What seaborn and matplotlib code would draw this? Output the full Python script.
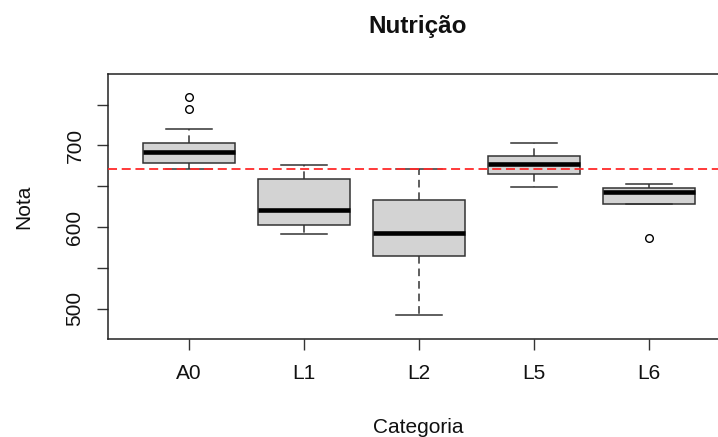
import matplotlib
matplotlib.use("Agg")
import matplotlib.pyplot as plt
import seaborn as sns
import pandas as pd

# Five-number summaries per category
categories = ["A0", "L1", "L2", "L5", "L6"]
whisker_low = [671.5, 591.4, 492.0, 649.4, 628.6]
q1 = [678.9, 602.5, 564.4, 665.0, 628.6]
median = [691.7, 621.0, 592.6, 677.7, 643.0]
q3 = [702.7, 659.0, 633.5, 687.0, 647.9]
whisker_high = [720.0, 676.0, 671.5, 702.7, 652.8]

# Points beyond the whiskers
outlier_cat = ["A0", "A0", "L6"]
outlier_val = [745.0, 760.0, 586.5]

# Reference level (dashed red line)
reference = 671.2

y_ticks = [500, 550, 600, 650, 700, 750]
y_ticklabels = ["500", "", "600", "", "700", ""]

rows = []
for c, a, b, m, d, e in zip(categories, whisker_low, q1, median, q3, whisker_high):
    for v in (a, b, m, d, e):
        rows.append({"Categoria": c, "Nota": v})
df = pd.DataFrame(rows)

plt.rcParams["font.family"] = ["Liberation Sans", "DejaVu Sans"]

W, H = 718, 437
fig = plt.figure(figsize=(W / 100, H / 100), dpi=100)
left, right, top, bottom = 108, 729, 74, 339
ax = fig.add_axes([left / W, 1 - bottom / H, (right - left) / W, (bottom - top) / H])

edge = "#333333"
sns.boxplot(
    data=df, x="Categoria", y="Nota", order=categories, ax=ax,
    color="#d3d3d3", saturation=1, width=0.8, whis=1.5, showfliers=False,
    linecolor=edge, linewidth=1.1,
    medianprops=dict(color="black", linewidth=3.3, solid_capstyle="butt"),
    whiskerprops=dict(color=edge, linewidth=1.1, linestyle=(0, (5, 3.2))),
    capprops=dict(color=edge, linewidth=1.1),
    boxprops=dict(edgecolor=edge, linewidth=1.1),
)

sns.stripplot(
    x=outlier_cat, y=outlier_val, order=categories, ax=ax, jitter=False,
    color="white", edgecolor="black", linewidth=1.0, size=5.5, zorder=4,
)

ax.axhline(reference, color="#ff2a2a", linewidth=1.3, linestyle=(0, (5, 2.6)), zorder=5)

ax.set_xlim(-0.7, 4.7)
ax.set_ylim(462.6, 787.7)
ax.set_yticks(y_ticks)
ax.set_yticklabels(y_ticklabels, rotation=90, va="center")
ax.set_xticks(range(len(categories)))
ax.set_xticklabels(categories)

ax.tick_params(axis="both", length=8, width=1.0, color=edge, labelsize=15, labelcolor="#111111")
ax.tick_params(axis="y", pad=9)
ax.tick_params(axis="x", pad=10)

for s in ax.spines.values():
    s.set_color("#222222")
    s.set_linewidth(1.1)

ax.set_xlabel("Categoria", fontsize=15, color="#111111")
ax.set_ylabel("Nota", fontsize=15, color="#111111")
ax.xaxis.set_label_coords(0.5, (bottom - 433) / (bottom - top))
ax.xaxis.label.set_va("baseline")
ax.yaxis.set_label_coords((23.5 - left) / (right - left), 0.5)
ax.yaxis.label.set_va("center")

fig.text(418 / W, 1 - 32.7 / H, "Nutrição", ha="center", va="baseline",
         fontsize=17.5, fontweight="bold", color="#111111")

fig.savefig("out.png", dpi=100)
